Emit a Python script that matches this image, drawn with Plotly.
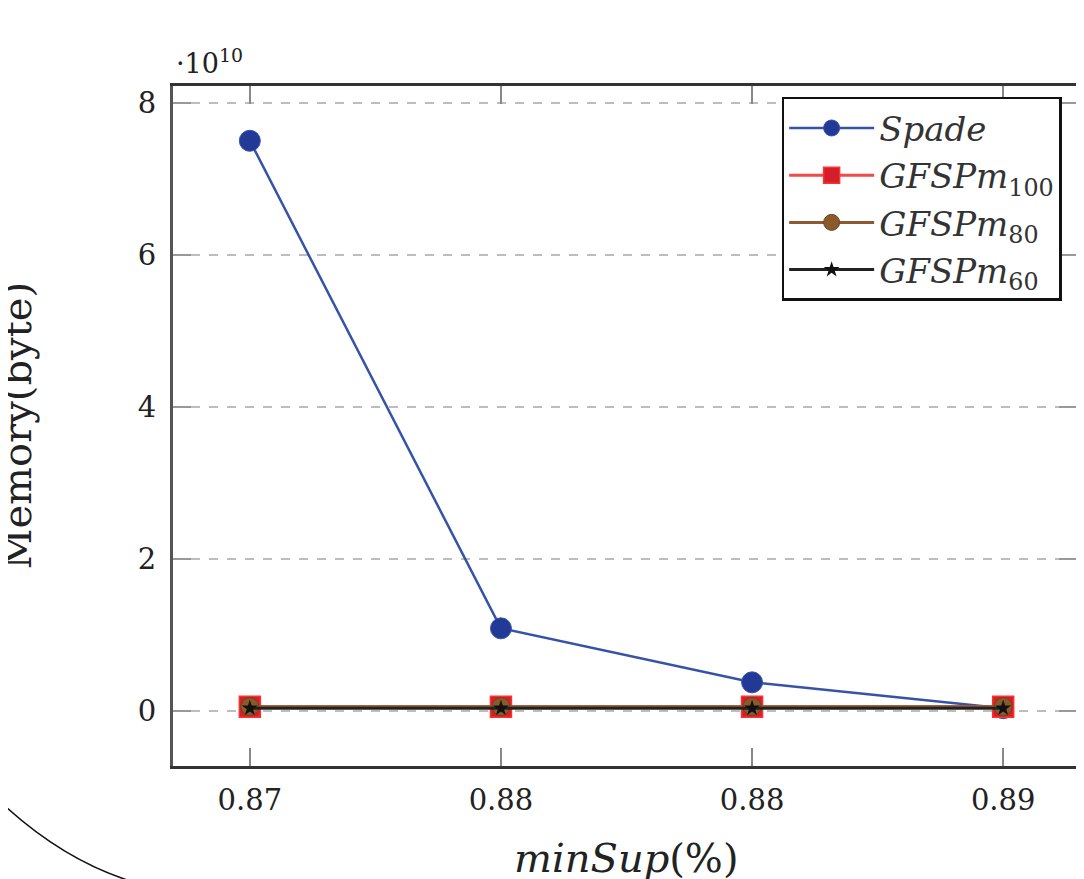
import plotly.graph_objects as go

# ---- data ----
x_labels = ["0.87", "0.88", "0.88", "0.89"]
x_pos = [0, 1, 2, 3]
spade = [7.50e10, 1.09e10, 0.38e10, 0.04e10]
gfsp_m100 = [0.06e10, 0.06e10, 0.06e10, 0.06e10]
gfsp_m80 = [0.06e10, 0.06e10, 0.06e10, 0.06e10]
gfsp_m60 = [0.04e10, 0.04e10, 0.04e10, 0.04e10]
y_ticks = [0, 2e10, 4e10, 6e10, 8e10]
y_tick_labels = ["0", "2", "4", "6", "8"]

SERIF = "DejaVu Serif, Liberation Serif, serif"

fig = go.Figure()
fig.add_trace(go.Scatter(
    x=x_pos, y=spade, mode="lines+markers", name="<i>Spade</i>",
    line=dict(color="#3653a8", width=2.5),
    marker=dict(symbol="circle", size=21, color="#223a96", line=dict(color="#3653a8", width=1)),
))
fig.add_trace(go.Scatter(
    x=x_pos, y=gfsp_m100, mode="lines+markers", name="<i>GFSPm</i><sub>100</sub>",
    line=dict(color="#f04a4a", width=3),
    marker=dict(symbol="square", size=21, color="#d41f2a", line=dict(color="#ff3030", width=1.5)),
))
fig.add_trace(go.Scatter(
    x=x_pos, y=gfsp_m80, mode="lines+markers", name="<i>GFSPm</i><sub>80</sub>",
    line=dict(color="#8c5a2e", width=3),
    marker=dict(symbol="circle", size=18, color="#8b5a2b", line=dict(color="#6b4420", width=1)),
))
fig.add_trace(go.Scatter(
    x=x_pos, y=gfsp_m60, mode="lines+markers", name="<i>GFSPm</i><sub>60</sub>",
    line=dict(color="#222222", width=3),
    marker=dict(symbol="star", size=12, color="#111111"),
))

# page has an 8px body margin: figure coords = page coords - 8
fig.update_layout(
    width=1076, height=871,
    margin=dict(l=165, r=4, t=78, b=113),
    paper_bgcolor="white", plot_bgcolor="white",
    font=dict(family=SERIF, color="#222", size=28),
    showlegend=True,
    legend=dict(
        x=0.983, xanchor="right", y=0.984, yanchor="top",
        bgcolor="white", bordercolor="#111", borderwidth=2.5,
        font=dict(family=SERIF, size=34, color="#333"),
        tracegroupgap=0, itemwidth=85,
    ),
    xaxis=dict(
        range=[-0.306, 3.294], tickmode="array", tickvals=x_pos, ticktext=x_labels,
        showgrid=False, zeroline=False,
        showline=True, linecolor="#333", linewidth=3, mirror="allticks",
        ticks="inside", ticklen=18, tickwidth=2, tickcolor="#888",
        tickfont=dict(family=SERIF, size=29, color="#222"),
        ticklabelstandoff=6,
    ),
    yaxis=dict(
        range=[-0.72e10, 8.22e10], tickmode="array", tickvals=y_ticks, ticktext=y_tick_labels,
        showgrid=True, gridcolor="#bdbdbd", gridwidth=1.5, griddash="dash",
        zeroline=False,
        showline=True, linecolor="#555", linewidth=3, mirror="allticks",
        ticks="inside", ticklen=18, tickwidth=2, tickcolor="#999",
        tickfont=dict(family=SERIF, size=29, color="#222"),
        ticklabelstandoff=8,
    ),
)

# page-pixel -> paper coordinate helpers (plot area spans page x 173..1080, y 86..766)
def px(xp):
    return (xp - 173) / 907

def py(yp):
    return (766 - yp) / 680

fig.add_annotation(
    text="Memory(byte)", textangle=-90, xref="paper", yref="paper",
    x=px(16), y=0.5, xanchor="center", yanchor="middle",
    showarrow=False, font=dict(family=SERIF, size=40, color="#222"),
)
fig.add_annotation(
    text="<i>minSup</i>(%)", xref="paper", yref="paper",
    x=px(628), y=py(858), xanchor="center", yanchor="middle",
    showarrow=False, font=dict(family=SERIF, size=40, color="#222"),
)
fig.add_annotation(
    text="·10<sup>10</sup>", xref="paper", yref="paper",
    x=px(174), y=py(62), xanchor="left", yanchor="middle",
    showarrow=False, font=dict(family=SERIF, size=27, color="#222"),
)

# decorative arc at lower-left
arc = f"M {px(0)},{py(802)} Q {px(60)},{py(858)} {px(127)},{py(880)}"
fig.add_shape(type="path", path=arc, xref="paper", yref="paper",
              line=dict(color="#111", width=1.5))

fig.write_html("out.html")
